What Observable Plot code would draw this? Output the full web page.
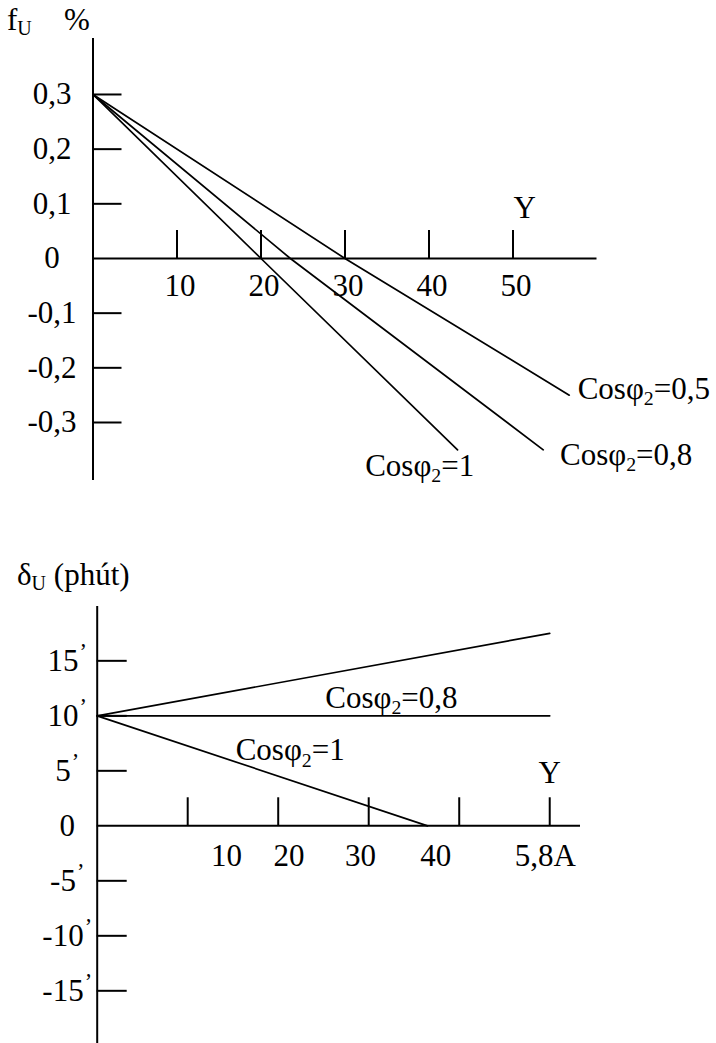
<!DOCTYPE html>
<html><head><meta charset="utf-8">
<script src="https://cdn.jsdelivr.net/npm/d3@7"></script>
<script src="https://cdn.jsdelivr.net/npm/@observablehq/plot@0.6"></script>
<style>
body{margin:0;background:#fff;}
#wrap{position:relative;width:716px;height:1043px;overflow:hidden;font-family:"Liberation Serif",serif;color:#000;background:#fff;}
#top,#bot{position:absolute;left:0;}
#top{top:0px}
#bot{top:540px}
.title{position:absolute;font-size:31px;line-height:1;white-space:nowrap;}
.title sub{font-size:20px;vertical-align:-5px;line-height:0}
</style></head><body>
<div id="wrap">
<div id="top"></div><div id="bot"></div>
<div class="title" style="left:7px;top:4px">f<sub>U</sub></div>
<div class="title" style="left:64px;top:4px">%</div>
<div class="title" style="left:17px;top:559px">δ<sub>U</sub> (phút)</div>
</div>
<script>
// ---------- Top chart data (fU %) ----------
const topYTickVals = [0.3, 0.2, 0.1, -0.1, -0.2, -0.3];
const topYLabelVals = [0.3, 0.2, 0.1, 0, -0.1, -0.2, -0.3];
const topYLabels = ["0,3", "0,2", "0,1", "0", "-0,1", "-0,2", "-0,3"];
const topXTicks = [10, 20, 30, 40, 50];
const topXLabels = ["10", "20", "30", "40", "50"];
const topSeries = ["Cosφ_2=0,5", "Cosφ_2=0,8", "Cosφ_2=1"];
const topLineX = [[0, 30, 56.7], [0, 23.5, 53.6], [0, 20, 43.4]];
const topLineY = [[0.3, 0, -0.25], [0.3, 0, -0.35], [0.3, 0, -0.35]];
const topLabelX = [57.7, 55.6, 32.4];
const topLabelY = [-0.238, -0.36, -0.38];
const topAxisName = ["Y"];
const topAxisNameX = [51.4];
const topAxisNameY = [0.093];

// ---------- Bottom chart data (δU phút) ----------
const botYTickVals = [15, 10, 5, -5, -10, -15];
const botYLabelVals = [15, 10, 5, 0, -5, -10, -15];
const botYLabels = ["15’", "10’", "5’", "0", "-5’", "-10’", "-15’"];
const botXTicks = [10, 20, 30, 40, 50];
const botXLabels = ["10", "20", "30", "40", "5,8A"];
const botXLabelPos = [14.3, 21.2, 29.1, 37.4, 49.5];
const botSeries = ["upper", "Cosφ_2=0,8", "Cosφ_2=1"];
const botLineX = [[0, 50], [0, 50], [0, 36.5]];
const botLineY = [[10, 17.5], [10, 10], [10, 0]];
const botLabels = ["Cosφ_2=0,8", "Cosφ_2=1"];
const botLabelX = [25.2, 15.3];
const botLabelY = [11.6, 6.85];
const botAxisName = ["Y"];
const botAxisNameX = [50];
const botAxisNameY = [4.8];

const FONT = "Liberation Serif";
const FS = 31;

function table(names, xs, ys) {
  return names.flatMap((s, i) => xs[i].map((x, j) => ({series: s, x, y: ys[i][j]})));
}

function fixText(svg) {
  d3.select(svg).selectAll("text").each(function () {
    const t = this;
    const s = t.textContent;
    if (!s.includes("_") && !s.includes("’")) return;
    const fs = parseFloat(getComputedStyle(t).fontSize) || FS;
    t.textContent = "";
    const segs = s.split(/(_\d|’)/).filter(x => x);
    let shift = 0;
    for (const seg of segs) {
      const ts = d3.select(t).append("tspan");
      if (seg.startsWith("_")) {
        const sh = fs * 0.2;
        ts.text(seg.slice(1)).attr("font-size", fs * 0.64).attr("dy", sh - shift);
        shift = sh;
      } else if (seg === "’") {
        const sh = -fs * 0.38;
        ts.text("’").attr("font-size", fs * 0.72).attr("dx", 1).attr("dy", sh - shift);
        shift = sh;
      } else {
        ts.text(seg).attr("dy", -shift);
        shift = 0;
      }
    }
  });
}

// ---------- Top plot ----------
const topW = 716, topH = 500;
const tML = 92.5, tMR = 119.5, tMT = 38, tMB = 20;
const tFrameW = topW - tML - tMR;
const topTickUp = 0.0512; // tick height in y units
const topPlot = Plot.plot({
  width: topW, height: topH,
  marginLeft: tML, marginRight: tMR, marginTop: tMT, marginBottom: tMB,
  style: {fontFamily: FONT, fontSize: FS + "px", background: "transparent", overflow: "visible"},
  x: {domain: [0, 60], axis: null},
  y: {domain: [-0.4061, 0.4024], axis: null},
  marks: [
    Plot.ruleX([0], {x: d => d, stroke: "black", strokeWidth: 2}),
    Plot.ruleY([0], {y: d => d, stroke: "black", strokeWidth: 2}),
    Plot.tickY(topYTickVals, {y: d => d, insetRight: tFrameW - 29, stroke: "black", strokeWidth: 2}),
    Plot.ruleX(topXTicks, {x: d => d, y1: () => 0, y2: () => topTickUp, stroke: "black", strokeWidth: 2}),
    Plot.text(topYLabelVals, {x: () => 0, y: d => d, text: (d, i) => topYLabels[i], dx: -41, textAnchor: "middle", fontSize: FS}),
    Plot.text(topXTicks, {x: d => d, y: () => 0, text: (d, i) => topXLabels[i], dy: 28, dx: 3, textAnchor: "middle", fontSize: FS}),
    Plot.line(table(topSeries, topLineX, topLineY), {x: "x", y: "y", z: "series", stroke: "black", strokeWidth: 1.7}),
    Plot.text(topSeries, {x: (d, i) => topLabelX[i], y: (d, i) => topLabelY[i], text: d => d, textAnchor: "start", fontSize: FS}),
    Plot.text(topAxisName, {x: (d, i) => topAxisNameX[i], y: (d, i) => topAxisNameY[i], text: d => d, textAnchor: "middle", fontSize: FS})
  ]
});
document.getElementById("top").append(topPlot);
fixText(topPlot);

// ---------- Bottom plot ----------
const botW = 716, botH = 503;
const bML = 96.7, bMR = 136, bMT = 66, bMB = 0;
const bFrameW = botW - bML - bMR;
const botTickUp = 2.55; // tick height in y units
const botPlot = Plot.plot({
  width: botW, height: botH,
  marginLeft: bML, marginRight: bMR, marginTop: bMT, marginBottom: bMB,
  style: {fontFamily: FONT, fontSize: FS + "px", background: "transparent", overflow: "visible"},
  x: {domain: [0, 53.4], axis: null},
  y: {domain: [-19.79, 19.94], axis: null},
  marks: [
    Plot.ruleX([0], {x: d => d, stroke: "black", strokeWidth: 2}),
    Plot.ruleY([0], {y: d => d, stroke: "black", strokeWidth: 2}),
    Plot.tickY(botYTickVals, {y: d => d, insetRight: bFrameW - 30, stroke: "black", strokeWidth: 2}),
    Plot.ruleX(botXTicks, {x: d => d, y1: () => 0, y2: () => botTickUp, stroke: "black", strokeWidth: 2}),
    Plot.text(botYLabelVals, {x: () => 0, y: d => d, text: (d, i) => botYLabels[i], dx: -30, textAnchor: "middle", fontSize: FS}),
    Plot.text(botXLabels, {x: (d, i) => botXLabelPos[i], y: () => 0, text: d => d, dy: 30, textAnchor: "middle", fontSize: FS}),
    Plot.line(table(botSeries, botLineX, botLineY), {x: "x", y: "y", z: "series", stroke: "black", strokeWidth: 1.7}),
    Plot.text(botLabels, {x: (d, i) => botLabelX[i], y: (d, i) => botLabelY[i], text: d => d, textAnchor: "start", fontSize: FS}),
    Plot.text(botAxisName, {x: (d, i) => botAxisNameX[i], y: (d, i) => botAxisNameY[i], text: d => d, textAnchor: "middle", fontSize: FS})
  ]
});
document.getElementById("bot").append(botPlot);
fixText(botPlot);
</script>
</body></html>
